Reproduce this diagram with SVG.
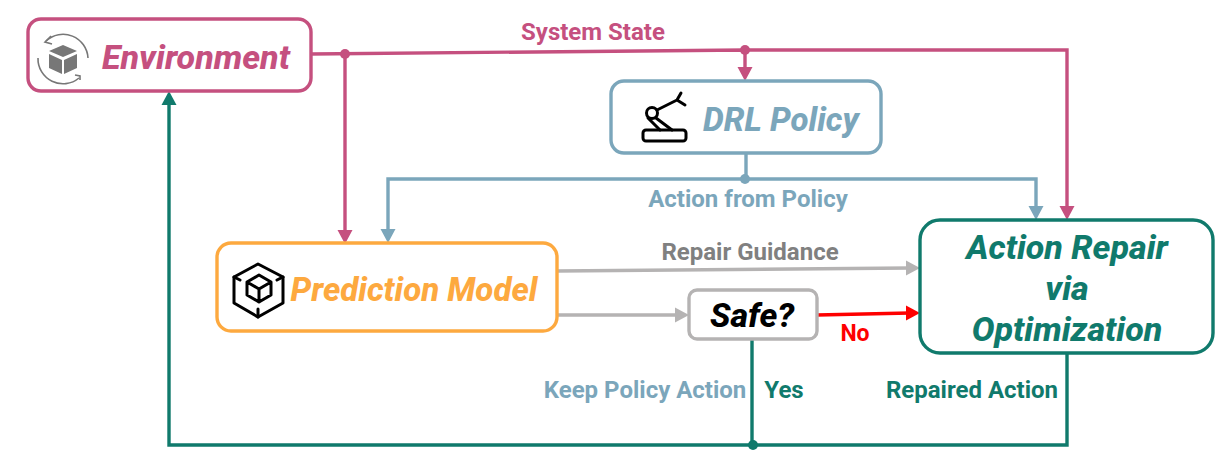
<svg xmlns="http://www.w3.org/2000/svg" width="1222" height="464" viewBox="0 0 1222 464">
<style>
text{font-family:"Roboto","Liberation Sans",sans-serif;font-weight:700;text-anchor:middle}
.t{font-style:italic;font-size:34px;font-weight:800}
.l{font-size:24px}
.box{fill:#fff;stroke-width:3.4}
.c{fill:none;stroke-width:3.4}
.pink{stroke:#c5507f}.blue{stroke:#7ba6bb}.teal{stroke:#107a6c}.gray{stroke:#b5b3b3}.red{stroke:#fe0000}
.fp{fill:#c5507f}.fb{fill:#7ba6bb}.ft{fill:#107a6c}.fg{fill:#b5b3b3}.fr{fill:#fe0000}.fo{fill:#fda93f}
.i{fill:none;stroke:#000;stroke-width:3;stroke-linejoin:round;stroke-linecap:round}
</style>
<g id="connectors">
<path class="c pink" d="M311 54L745 50H1067V210M345 54V233M745 50V70"/>
<path class="c blue" d="M746 153V179M388 233V179H1036V210"/>
<path class="c gray" d="M557 271L910 268M557 315H679"/>
<path class="c red" d="M817 315L910 313"/>
<path class="c teal" d="M169 101V445H1067V353M752 339V445"/>
<g class="fp"><circle cx="345" cy="54" r="5"/><circle cx="745" cy="50" r="5"/><path d="M737.500 67H752.500L745 81ZM337.500 230H352.500L345 244ZM1059.500 206H1074.500L1067 220Z"/></g>
<g class="fb"><circle cx="745" cy="179" r="5"/><path d="M380.500 229H395.500L388 243ZM1028.500 206H1043.500L1036 220Z"/></g>
<g class="fg"><path d="M906 260.500L920 268L906 275.500ZM675 307.500L689 315L675 322.500Z"/></g>
<path class="fr" d="M906 305.500L920 313L906 320.500Z"/>
<g class="ft"><circle cx="753" cy="445" r="5"/><path d="M161.500 105L169 91L176.500 105Z"/></g>
</g>
<g id="environment">
<rect class="box pink" x="28" y="19" width="283" height="72" rx="13"/>
<g fill="none" stroke="#777" stroke-width="1.6"><path d="M46 41A25 25 0 0 1 88 58M38 58A25 25 0 0 0 79 78"/><path d="M51 36L45 42L52 44M80 80L80 76L75 75"/></g>
<path fill="#777" d="M63 45L77 51L63 57L49 51ZM49 54L62 60V74L49 68ZM77 54L64 60V74L77 68Z"/>
<text class="t fp" x="196" y="69">Environment</text>
</g>
<g id="drl-policy">
<rect class="box blue" x="611" y="81" width="270" height="72" rx="13"/>
<g class="i"><rect x="643" y="130" width="43" height="11" rx="3"/><circle cx="652" cy="113" r="5.500"/><path d="M657 110L677 100M656 118L672 130M648 118L660 130M677 100L681 93M677 100L685 105"/></g>
<text class="t fb" x="781" y="131" style="font-size:33px">DRL Policy</text>
</g>
<g id="prediction-model">
<rect class="box" stroke="#fda93f" x="217" y="243" width="340" height="88" rx="14"/>
<g class="i" stroke-width="3.400"><path d="M258 264L283 277V303L258 317L234 303V277Z"/><path d="M259 275L271 282V295L259 302L247 295V282ZM247 282L259 289L271 282M259 289V302M258 317V309M234 277L240 280M283 277L277 280"/></g>
<text class="t fo" x="414" y="301" style="font-size:33px">Prediction Model</text>
</g>
<g id="safe">
<rect class="box gray" x="689" y="290" width="128" height="49" rx="8"/>
<text class="t" x="752" y="327" fill="#000">Safe?</text>
</g>
<g id="action-repair">
<rect class="box teal" x="920" y="220" width="293" height="133" rx="20"/>
<text class="t ft" x="1067" y="259">Action Repair</text>
<text class="t ft" x="1067" y="300">via</text>
<text class="t ft" x="1067" y="341">Optimization</text>
</g>
<g id="labels">
<text class="l fp" x="593" y="40">System State</text>
<text class="l fb" x="748" y="207">Action from Policy</text>
<text class="l" x="750" y="260" fill="#808080">Repair Guidance</text>
<text class="l fr" x="855" y="341" style="font-size:23px">No</text>
<text class="l fb" x="645" y="398">Keep Policy Action</text>
<text class="l ft" x="784" y="398">Yes</text>
<text class="l ft" x="972" y="398">Repaired Action</text>
</g>
</svg>
